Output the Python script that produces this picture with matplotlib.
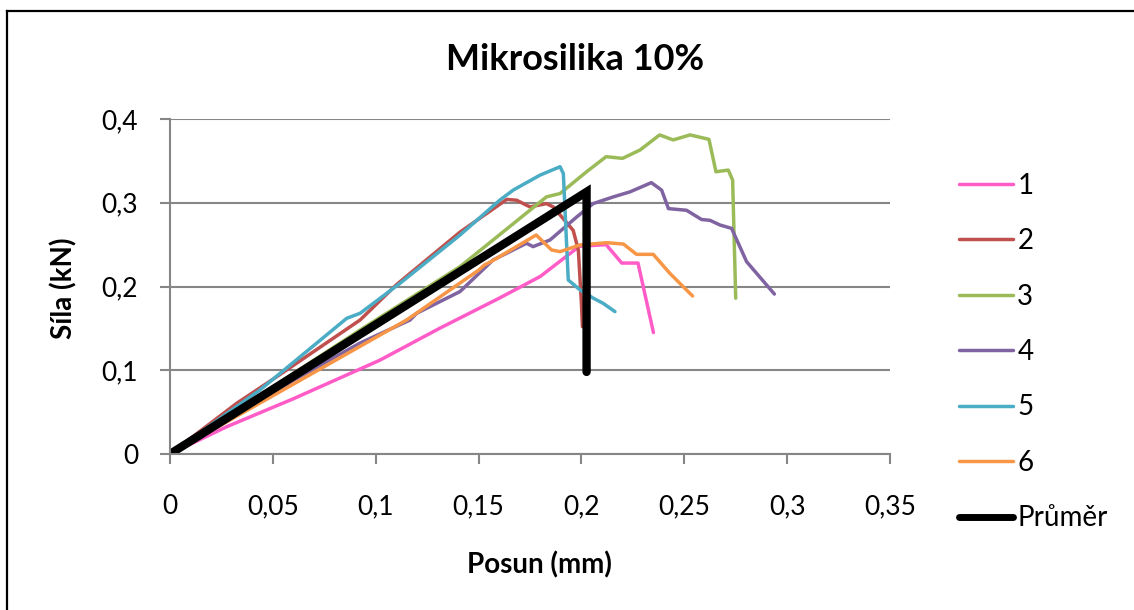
import matplotlib
matplotlib.use("Agg")
import matplotlib.pyplot as plt
from matplotlib.lines import Line2D
from matplotlib.ticker import FuncFormatter, MultipleLocator

plt.rcParams['font.family'] = ['Lato', 'DejaVu Sans']

# posun (mm) a sila (kN) pro jednotlive vzorky
x1 = [0, 0.0276, 0.06, 0.102, 0.131, 0.160, 0.180, 0.199, 0.212, 0.2196, 0.2275, 0.235]
y1 = [0, 0.0326, 0.066, 0.112, 0.150, 0.186, 0.212, 0.248, 0.250, 0.228, 0.228, 0.145]

x2 = [0, 0.0324, 0.0519, 0.0924, 0.110, 0.141, 0.1637, 0.1685, 0.175, 0.183, 0.1863,
      0.196, 0.1985, 0.200, 0.2005]
y2 = [0, 0.0605, 0.0923, 0.160, 0.202, 0.265, 0.304, 0.303, 0.295, 0.299, 0.295,
      0.267, 0.2436, 0.180, 0.152]

x3 = [0, 0.0924, 0.141, 0.183, 0.1896, 0.2025, 0.212, 0.220, 0.2285, 0.238, 0.2446,
      0.2528, 0.262, 0.2654, 0.2714, 0.2735, 0.275]
y3 = [0, 0.148, 0.2237, 0.307, 0.311, 0.337, 0.355, 0.353, 0.363, 0.381, 0.375,
      0.381, 0.3757, 0.337, 0.339, 0.327, 0.186]

x4 = [0, 0.06, 0.0924, 0.1167, 0.1199, 0.141, 0.157, 0.1733, 0.1765, 0.1847, 0.1977,
      0.2057, 0.2155, 0.2236, 0.234, 0.239, 0.2423, 0.2511, 0.2584, 0.2625, 0.2674,
      0.273, 0.2803, 0.2938]
y4 = [0, 0.088, 0.1325, 0.160, 0.168, 0.194, 0.2316, 0.2516, 0.2476, 0.2555, 0.283,
      0.299, 0.307, 0.313, 0.324, 0.315, 0.293, 0.291, 0.280, 0.279, 0.2734,
      0.2694, 0.2296, 0.191]

x5 = [0, 0.0437, 0.0859, 0.0924, 0.1118, 0.141, 0.1604, 0.1669, 0.1799, 0.1896,
      0.1912, 0.1936, 0.1993, 0.2058, 0.2105, 0.2163]
y5 = [0, 0.0764, 0.162, 0.168, 0.2038, 0.2615, 0.3033, 0.3152, 0.333, 0.343,
      0.335, 0.2078, 0.196, 0.186, 0.180, 0.170]

x6 = [0, 0.115, 0.150, 0.153, 0.156, 0.178, 0.1855, 0.1896, 0.1993, 0.2122, 0.2204,
      0.2268, 0.2349, 0.243, 0.254]
y6 = [0, 0.160, 0.2195, 0.226, 0.2296, 0.2615, 0.2436, 0.2416, 0.2496, 0.2523, 0.2507,
      0.2384, 0.2384, 0.2157, 0.1887]

x_avg = [0, 0.2025, 0.2025]
y_avg = [0, 0.313, 0.098]

labels = ['1', '2', '3', '4', '5', '6', 'Průměr']
colors = ['#FF5CC8', '#C0504D', '#9BBB59', '#8064A2', '#4BACC6', '#F79646', '#000000']

fig = plt.figure(figsize=(11.34, 6.10), dpi=100)
ax = fig.add_axes([170 / 1134, 156 / 610, 720 / 1134, 335 / 610])

series = [(x1, y1), (x2, y2), (x3, y3), (x4, y4), (x5, y5), (x6, y6)]
for (xs, ys), lab, col in zip(series, labels[:6], colors[:6]):
    ax.plot(xs, ys, color=col, lw=2.5, label=lab, solid_capstyle='round')
ax.plot(x_avg, y_avg, color='black', lw=6, label=labels[6], solid_capstyle='round',
        solid_joinstyle='miter')

ax.set_xlim(0, 0.35)
ax.set_ylim(0, 0.4)
ax.xaxis.set_major_locator(MultipleLocator(0.05))
ax.yaxis.set_major_locator(MultipleLocator(0.1))
fmt = FuncFormatter(lambda v, p: '{:g}'.format(round(v, 3)).replace('.', ','))
ax.xaxis.set_major_formatter(fmt)
ax.yaxis.set_major_formatter(fmt)

grey = '#868686'
ax.grid(axis='y', color=grey, lw=1.5)
ax.set_axisbelow(True)
for s in ['top', 'right']:
    ax.spines[s].set_visible(False)
for s in ['left', 'bottom']:
    ax.spines[s].set_color(grey)
    ax.spines[s].set_linewidth(1.5)
ax.tick_params(axis='x', direction='out', length=7, width=1.5, color=grey,
               labelsize=19, pad=22)
ax.tick_params(axis='y', direction='out', length=7, width=1.5, color=grey,
               labelsize=19, pad=16)

fig.text(575 / 1134, 1 - 60 / 610, 'Mikrosilika 10%', fontsize=26, fontweight='bold',
         ha='center', va='center')
fig.text(539 / 1134, 1 - 565 / 610, 'Posun (mm)', fontsize=20, fontweight='bold',
         ha='center', va='center')
fig.text(64 / 1134, 1 - 288 / 610, 'Síla (kN)', fontsize=20, fontweight='bold',
         ha='center', va='center', rotation=90)

leg = ax.legend(loc='center left', bbox_to_anchor=(959 / 1134, 1 - 352 / 610),
                bbox_transform=fig.transFigure, frameon=False, fontsize=20,
                labelspacing=1.06, handlelength=1.95, handletextpad=0.15,
                borderpad=0, borderaxespad=0)
for h in leg.get_lines()[:6]:
    h.set_linewidth(2.5)
leg.get_lines()[6].set_linewidth(5)

# ramecek grafu
fig.add_artist(Line2D([7 / 1134, 7 / 1134], [0, 1 - 11 / 610], color='black', lw=1.6,
                      transform=fig.transFigure))
fig.add_artist(Line2D([7 / 1134, 1], [1 - 11 / 610, 1 - 11 / 610], color='black', lw=1.6,
                      transform=fig.transFigure))

fig.savefig('out.png', dpi=100)
